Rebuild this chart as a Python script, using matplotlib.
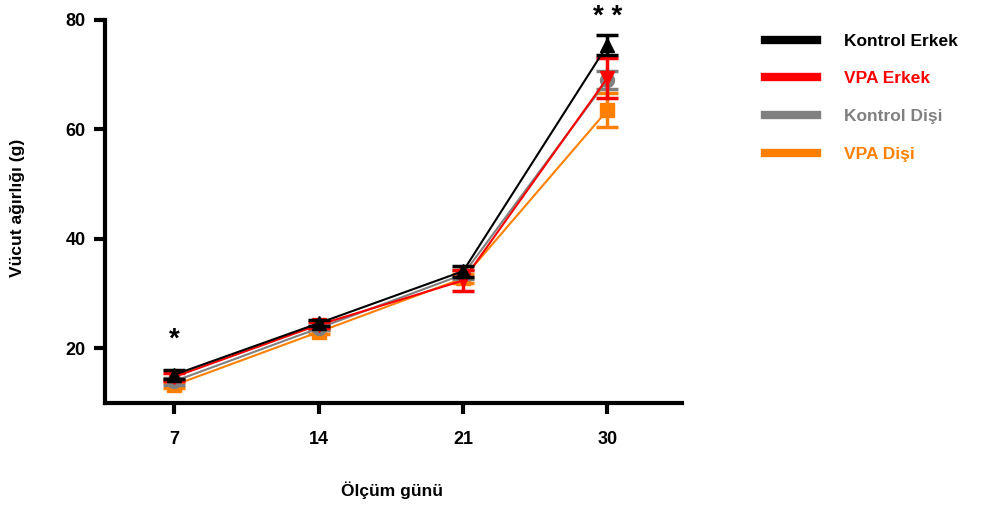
import matplotlib
matplotlib.use('Agg')
from matplotlib import pyplot as plt
import numpy as np

plt.rcParams['font.family'] = ['Liberation Sans', 'DejaVu Sans']

days = ['7', '14', '21', '30']
labels = ['Kontrol Erkek', 'VPA Erkek', 'Kontrol Dişi', 'VPA Dişi']
colors = ['black', '#ff0000', '#808080', '#ff8000']
markers = ['^', 'v', 'o', 's']

kontrol_erkek = [15.2, 24.6, 34.1, 75.4]
kontrol_erkek_err = [0.8, 0.5, 1.0, 1.8]
vpa_erkek = [14.8, 24.3, 32.4, 69.4]
vpa_erkek_err = [0.7, 0.5, 2.0, 3.7]
kontrol_disi = [14.0, 23.7, 33.5, 69.0]
kontrol_disi_err = [0.6, 0.4, 0.8, 1.7]
vpa_disi = [13.3, 23.0, 32.8, 63.5]
vpa_disi_err = [0.6, 0.4, 0.8, 3.1]

series = [kontrol_erkek, vpa_erkek, kontrol_disi, vpa_disi]
errors = [kontrol_erkek_err, vpa_erkek_err, kontrol_disi_err, vpa_disi_err]

fig = plt.figure(figsize=(9.92, 5.09), dpi=100)
ax = fig.add_axes([0.106, 0.208, 0.582, 0.753])

x = np.arange(len(days))
# draw females first so males sit on top
for i in [3, 2, 1, 0]:
    ax.errorbar(x, series[i], yerr=errors[i], color=colors[i], marker=markers[i],
                markersize=10, linewidth=1.5, elinewidth=2.5, capsize=8, capthick=2.5,
                zorder=3 + (3 - i))

# legend: line handles only
for i in range(4):
    ax.plot([], [], color=colors[i], linewidth=6, label=labels[i])
leg = ax.legend(loc='upper left', bbox_to_anchor=(1.115, 1.005), frameon=False,
                handlelength=3.0, handletextpad=1.6, labelspacing=1.3,
                prop={'weight': 'bold', 'size': 12.5})
for txt, c in zip(leg.get_texts(), colors):
    txt.set_color(c)

ax.text(0, 21.6, '*', ha='center', va='center', fontsize=20, fontweight='bold')
ax.text(3, 80.5, '* *', ha='center', va='center', fontsize=20, fontweight='bold')

ax.set_xlim(-0.48, 3.52)
ax.set_ylim(10, 80)
ax.set_xticks(x)
ax.set_xticklabels(days)
ax.set_yticks([20, 40, 60, 80])

for s in ['top', 'right']:
    ax.spines[s].set_visible(False)
for s in ['left', 'bottom']:
    ax.spines[s].set_linewidth(3)
ax.tick_params(axis='both', direction='out', length=8, width=3, labelsize=13, pad=6)
for lab in ax.get_xticklabels() + ax.get_yticklabels():
    lab.set_fontweight('bold')
ax.tick_params(axis='x', pad=12)

ax.set_xlabel('Ölçüm günü', fontsize=12.5, fontweight='bold')
ax.xaxis.set_label_coords(0.497, -0.205)
ax.set_ylabel('Vücut ağırlığı (g)', fontsize=12.5, fontweight='bold')
ax.yaxis.set_label_coords(-0.138, 0.51)

plt.savefig('out.png', dpi=100)
